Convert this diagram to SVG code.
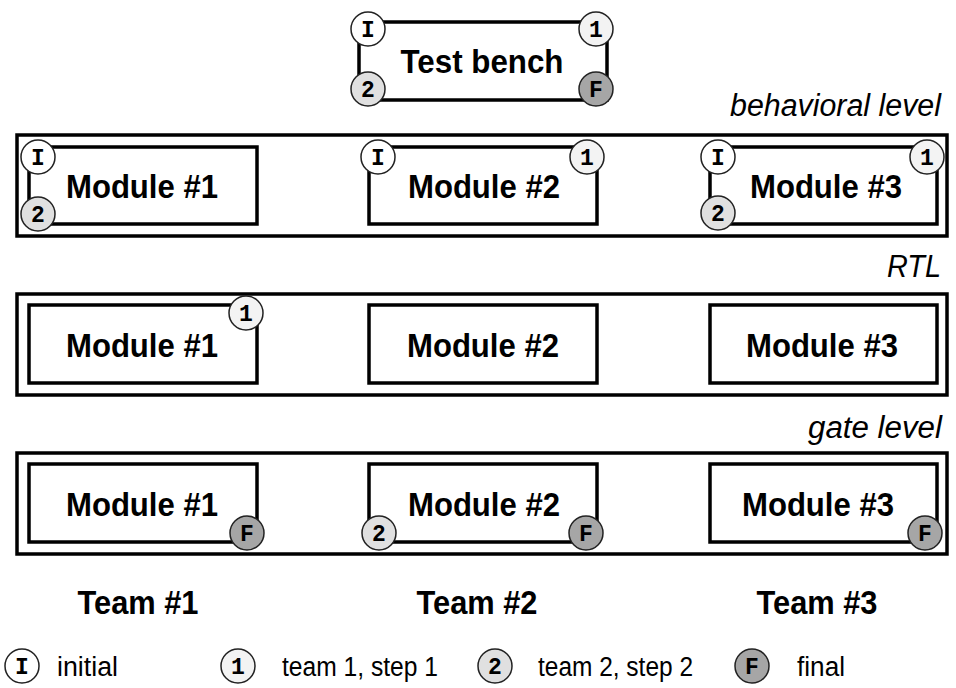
<svg xmlns="http://www.w3.org/2000/svg" width="956" height="688" viewBox="0 0 956 688">
<style>
.box{fill:#fff;stroke:#000;stroke-width:3.5}
.outer{fill:none;stroke:#000;stroke-width:3.5}
.mod{font-family:"Liberation Sans",Arial,sans-serif;font-weight:bold;font-size:33px;text-anchor:middle;fill:#000}
.lvl{font-family:"Liberation Sans",Arial,sans-serif;font-style:italic;font-size:31px;text-anchor:end;fill:#000}
.leg{font-family:"Liberation Sans",Arial,sans-serif;font-size:27px;fill:#000}
.c{stroke:#222;stroke-width:1.5}
.ci{fill:#fff}
.c1{fill:#f3f3f3}
.c2{fill:#e0e0e0}
.cf{fill:#a6a6a6}
.ct{font-family:"Liberation Mono","Courier New",monospace;font-weight:bold;font-size:23px;text-anchor:middle;fill:#000}
</style>
<defs>
<g id="mI"><circle class="c ci" r="17"/><text class="ct" y="7.5">I</text></g>
<g id="m1"><circle class="c c1" r="17"/><text class="ct" y="7.5">1</text></g>
<g id="m2"><circle class="c c2" r="17"/><text class="ct" y="7.5">2</text></g>
<g id="mF"><circle class="c cf" r="17"/><text class="ct" y="7.5">F</text></g>
</defs>

<g id="connectors"></g>

<g id="testbench">
<rect class="box" x="359" y="22" width="248" height="78"/>
<text class="mod" x="482" y="73" textLength="163" lengthAdjust="spacingAndGlyphs">Test bench</text>
<use href="#mI" x="368" y="29"/>
<use href="#m1" x="596" y="29"/>
<use href="#m2" x="368" y="89"/>
<use href="#mF" x="596" y="89"/>
</g>

<g id="behavioral">
<text class="lvl" x="941" y="116" textLength="211" lengthAdjust="spacingAndGlyphs">behavioral level</text>
<rect class="outer" x="17" y="135" width="930" height="101"/>
<g id="b1">
<rect class="box" x="29" y="147" width="228" height="77"/>
<text class="mod" x="142" y="198" textLength="152" lengthAdjust="spacingAndGlyphs">Module #1</text>
<use href="#mI" x="38" y="157"/>
<use href="#m2" x="38" y="214"/>
</g>
<g id="b2">
<rect class="box" x="369" y="147" width="228" height="77"/>
<text class="mod" x="484" y="198" textLength="152" lengthAdjust="spacingAndGlyphs">Module #2</text>
<use href="#mI" x="378" y="157"/>
<use href="#m1" x="587" y="157"/>
</g>
<g id="b3">
<rect class="box" x="710" y="147" width="227" height="77"/>
<text class="mod" x="826" y="198" textLength="152" lengthAdjust="spacingAndGlyphs">Module #3</text>
<use href="#mI" x="718" y="157"/>
<use href="#m1" x="927" y="157"/>
<use href="#m2" x="718" y="213"/>
</g>
</g>

<g id="rtl">
<text class="lvl" x="941" y="277" textLength="54" lengthAdjust="spacingAndGlyphs">RTL</text>
<rect class="outer" x="17" y="294" width="930" height="101"/>
<g id="r1">
<rect class="box" x="29" y="305" width="228" height="78"/>
<text class="mod" x="142" y="357" textLength="152" lengthAdjust="spacingAndGlyphs">Module #1</text>
<use href="#m1" x="246" y="313"/>
</g>
<g id="r2">
<rect class="box" x="369" y="305" width="228" height="78"/>
<text class="mod" x="483" y="357" textLength="152" lengthAdjust="spacingAndGlyphs">Module #2</text>
</g>
<g id="r3">
<rect class="box" x="710" y="305" width="227" height="78"/>
<text class="mod" x="822" y="357" textLength="152" lengthAdjust="spacingAndGlyphs">Module #3</text>
</g>
</g>

<g id="gate">
<text class="lvl" x="942" y="438" textLength="134" lengthAdjust="spacingAndGlyphs">gate level</text>
<rect class="outer" x="17" y="453" width="930" height="101"/>
<g id="g1">
<rect class="box" x="29" y="464" width="228" height="78"/>
<text class="mod" x="142" y="516" textLength="152" lengthAdjust="spacingAndGlyphs">Module #1</text>
<use href="#mF" x="247" y="533"/>
</g>
<g id="g2">
<rect class="box" x="369" y="464" width="228" height="78"/>
<text class="mod" x="484" y="516" textLength="152" lengthAdjust="spacingAndGlyphs">Module #2</text>
<use href="#m2" x="379" y="533"/>
<use href="#mF" x="586" y="533"/>
</g>
<g id="g3">
<rect class="box" x="710" y="464" width="227" height="78"/>
<text class="mod" x="818" y="516" textLength="152" lengthAdjust="spacingAndGlyphs">Module #3</text>
<use href="#mF" x="925" y="533"/>
</g>
</g>

<g id="teams">
<text class="mod" x="138" y="614" textLength="121" lengthAdjust="spacingAndGlyphs">Team #1</text>
<text class="mod" x="477" y="614" textLength="121" lengthAdjust="spacingAndGlyphs">Team #2</text>
<text class="mod" x="817" y="614" textLength="121" lengthAdjust="spacingAndGlyphs">Team #3</text>
</g>

<g id="legend">
<use href="#mI" x="22" y="666"/>
<text class="leg" x="57" y="676" textLength="61" lengthAdjust="spacingAndGlyphs">initial</text>
<use href="#m1" x="238" y="666"/>
<text class="leg" x="282" y="676" textLength="156" lengthAdjust="spacingAndGlyphs">team 1, step 1</text>
<use href="#m2" x="495" y="666"/>
<text class="leg" x="538" y="676" textLength="155" lengthAdjust="spacingAndGlyphs">team 2, step 2</text>
<use href="#mF" x="752" y="666"/>
<text class="leg" x="797" y="676" textLength="48" lengthAdjust="spacingAndGlyphs">final</text>
</g>
</svg>
